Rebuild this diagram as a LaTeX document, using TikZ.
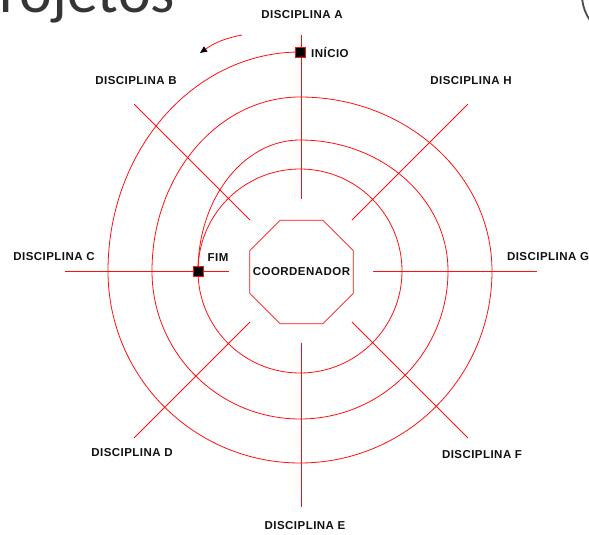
\documentclass[tikz,border=0pt]{standalone}
\usepackage{fontspec}
\setmainfont{Liberation Sans}
\newfontfamily\titlefont{Carlito}
\newfontfamily\discfont[LetterSpace=4]{Liberation Sans}
\usetikzlibrary{arrows.meta,shapes.geometric}
\definecolor{ink}{HTML}{111111}
\definecolor{linered}{HTML}{FF1010}

\begin{document}
\begin{tikzpicture}[x=1pt,y=1pt,>=Latex,
  disc/.style={font=\discfont\bfseries\fontsize{11.5}{13}\selectfont,text=ink,inner sep=0pt},
  endbox/.style={draw=linered,fill=black,line width=0.8pt,minimum size=10pt,inner sep=0pt},
  spoke/.style={draw=linered,line width=0.8pt}]
  \useasboundingbox (0,0) rectangle (589,535);
  \node[font=\titlefont\fontsize{62}{62}\selectfont,text=ink!85,anchor=base west,inner sep=0pt]
    (title) at (-33,522) {Projetos};
  \draw[black!70,line width=1.8pt] (582,540) arc[start angle=180,end angle=235,radius=44];
  \coordinate (O) at (301,264);
  \foreach \a in {0,45,...,315}{
    \draw[spoke] (O) ++(\a:72) -- ++(\a:164);
  }
  \draw[spoke] (300,483)
    arc[start angle=90,end angle=180,x radius=192,y radius=219]
    arc[start angle=180,end angle=360,radius=192]
    arc[start angle=0,end angle=90,x radius=192,y radius=174]
    arc[start angle=90,end angle=180,x radius=148,y radius=174]
    arc[start angle=180,end angle=360,radius=148]
    arc[start angle=0,end angle=90,x radius=148,y radius=131]
    arc[start angle=90,end angle=180,x radius=102,y radius=131];
  \draw[spoke] (300,264) circle (102);
  \node[draw=linered,line width=0.8pt,regular polygon,regular polygon sides=8,
        minimum size=112pt,inner sep=0pt] (coord) at (301.5,263) {};
  \node[disc] (coordLbl) at (coord.center) {COORDENADOR};
  \node[endbox] (inicio) at (300,483) {};
  \node[endbox] (fim) at (198,264) {};
  \node[disc,anchor=west] (inicioLbl) at (311,483) {INÍCIO};
  \node[disc] (fimLbl) at (218,277) {FIM};
  \foreach \n/\x/\y in {A/302/520,B/136/454,C/54/278,D/132/82.5,
                        E/305/9.5,F/482/80,G/548/278,H/471/454}{
    \node[disc] (disc\n) at (\x,\y) {DISCIPLINA \n};
  }
  \coordinate (arrS) at (242,500);
  \coordinate (arrE) at (200,482);
  \draw[spoke,-{Triangle[length=7pt,width=6pt,color=black,fill=black]}]
    (arrS) to[bend right=12] (arrE);
\end{tikzpicture}
\end{document}
